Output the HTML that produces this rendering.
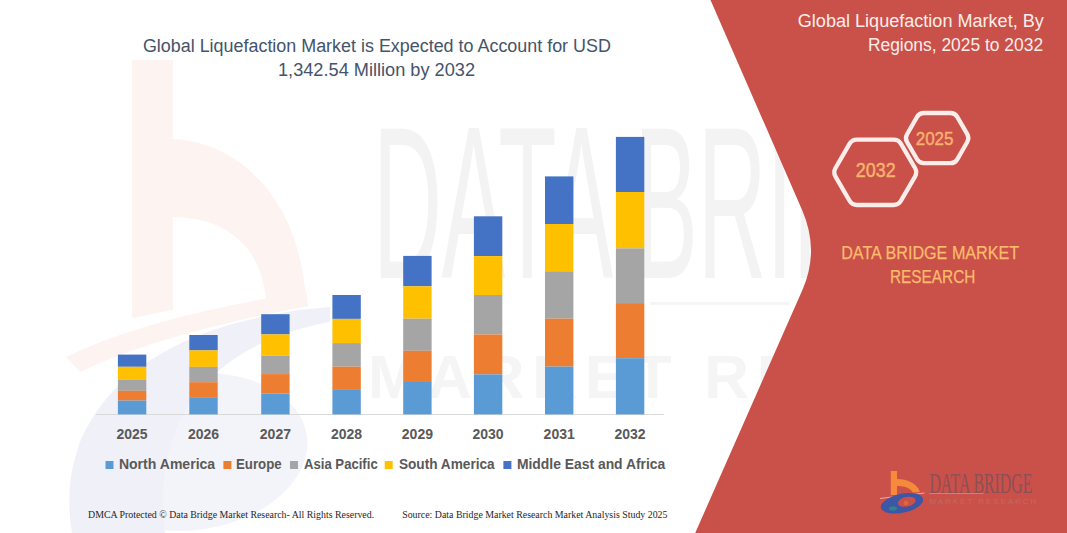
<!DOCTYPE html>
<html><head><meta charset="utf-8"><style>
html,body{margin:0;padding:0;background:#fff;width:1067px;height:533px;overflow:hidden}
svg{display:block}

</style></head><body>
<svg width="1067" height="533" viewBox="0 0 1067 533">
<rect width="1067" height="533" fill="#FFFFFF"/>
<path d="M132,60 L173,60 L173,139 C240,142 300,200 306,300 L266,300 C262,250 230,218 173,217 L173,310 L132,318 Z" fill="#fdf4f2"/>
<path d="M66,357 Q150,316 306,292 L308,306 Q160,334 80,372 Z" fill="#fdf3f0"/>
<ellipse cx="192" cy="452" rx="116" ry="78" transform="rotate(-8 192 452)" fill="#f3f3fa"/>
<path d="M72,533 C55,430 120,335 300,310 L330,307 L330,322 C220,342 150,410 165,533 Z" fill="#f0f0f8"/>
<text x="373" y="278" font-family="Liberation Sans" font-size="218" fill="#f3f3f3" textLength="626.5" lengthAdjust="spacingAndGlyphs">DATA BRIDGE</text>
<rect x="650" y="302" width="140" height="3" fill="#f5f5f5"/>
<text x="368" y="398" font-family="Liberation Sans" font-weight="bold" font-size="62" fill="#f5f5f5" textLength="430" lengthAdjust="spacing">MARKET RE</text>
<rect x="96" y="414" width="568" height="1" fill="#d9d9d9"/>
<rect x="117.9" y="354.6" width="28.4" height="12.2" fill="#4472C4"/>
<rect x="117.9" y="366.8" width="28.4" height="12.7" fill="#FFC000"/>
<rect x="117.9" y="379.5" width="28.4" height="11.3" fill="#A5A5A5"/>
<rect x="117.9" y="390.8" width="28.4" height="9.8" fill="#ED7D31"/>
<rect x="117.9" y="400.6" width="28.4" height="13.8" fill="#5B9BD5"/>
<text x="132.1" y="438.8" text-anchor="middle" font-family="Liberation Sans" font-weight="bold" font-size="14" fill="#595959">2025</text>
<rect x="189.3" y="335.0" width="28.4" height="15.4" fill="#4472C4"/>
<rect x="189.3" y="350.4" width="28.4" height="16.5" fill="#FFC000"/>
<rect x="189.3" y="366.9" width="28.4" height="15.3" fill="#A5A5A5"/>
<rect x="189.3" y="382.2" width="28.4" height="15.0" fill="#ED7D31"/>
<rect x="189.3" y="397.2" width="28.4" height="17.2" fill="#5B9BD5"/>
<text x="203.5" y="438.8" text-anchor="middle" font-family="Liberation Sans" font-weight="bold" font-size="14" fill="#595959">2026</text>
<rect x="261.2" y="314.2" width="28.4" height="20.2" fill="#4472C4"/>
<rect x="261.2" y="334.4" width="28.4" height="21.3" fill="#FFC000"/>
<rect x="261.2" y="355.7" width="28.4" height="18.4" fill="#A5A5A5"/>
<rect x="261.2" y="374.1" width="28.4" height="19.4" fill="#ED7D31"/>
<rect x="261.2" y="393.5" width="28.4" height="20.9" fill="#5B9BD5"/>
<text x="275.4" y="438.8" text-anchor="middle" font-family="Liberation Sans" font-weight="bold" font-size="14" fill="#595959">2027</text>
<rect x="332.4" y="295.0" width="28.4" height="23.9" fill="#4472C4"/>
<rect x="332.4" y="318.9" width="28.4" height="24.2" fill="#FFC000"/>
<rect x="332.4" y="343.1" width="28.4" height="23.6" fill="#A5A5A5"/>
<rect x="332.4" y="366.7" width="28.4" height="23.2" fill="#ED7D31"/>
<rect x="332.4" y="389.9" width="28.4" height="24.5" fill="#5B9BD5"/>
<text x="346.6" y="438.8" text-anchor="middle" font-family="Liberation Sans" font-weight="bold" font-size="14" fill="#595959">2028</text>
<rect x="403.2" y="255.9" width="28.4" height="30.4" fill="#4472C4"/>
<rect x="403.2" y="286.3" width="28.4" height="32.4" fill="#FFC000"/>
<rect x="403.2" y="318.7" width="28.4" height="32.1" fill="#A5A5A5"/>
<rect x="403.2" y="350.8" width="28.4" height="30.3" fill="#ED7D31"/>
<rect x="403.2" y="381.1" width="28.4" height="33.3" fill="#5B9BD5"/>
<text x="417.4" y="438.8" text-anchor="middle" font-family="Liberation Sans" font-weight="bold" font-size="14" fill="#595959">2029</text>
<rect x="473.9" y="216.3" width="28.4" height="39.8" fill="#4472C4"/>
<rect x="473.9" y="256.1" width="28.4" height="38.9" fill="#FFC000"/>
<rect x="473.9" y="295.0" width="28.4" height="39.5" fill="#A5A5A5"/>
<rect x="473.9" y="334.5" width="28.4" height="39.9" fill="#ED7D31"/>
<rect x="473.9" y="374.4" width="28.4" height="40.0" fill="#5B9BD5"/>
<text x="488.1" y="438.8" text-anchor="middle" font-family="Liberation Sans" font-weight="bold" font-size="14" fill="#595959">2030</text>
<rect x="545.0" y="176.4" width="28.4" height="47.6" fill="#4472C4"/>
<rect x="545.0" y="224.0" width="28.4" height="47.3" fill="#FFC000"/>
<rect x="545.0" y="271.3" width="28.4" height="47.4" fill="#A5A5A5"/>
<rect x="545.0" y="318.7" width="28.4" height="47.9" fill="#ED7D31"/>
<rect x="545.0" y="366.6" width="28.4" height="47.8" fill="#5B9BD5"/>
<text x="559.2" y="438.8" text-anchor="middle" font-family="Liberation Sans" font-weight="bold" font-size="14" fill="#595959">2031</text>
<rect x="615.9" y="136.9" width="28.4" height="55.1" fill="#4472C4"/>
<rect x="615.9" y="192.0" width="28.4" height="56.4" fill="#FFC000"/>
<rect x="615.9" y="248.4" width="28.4" height="54.7" fill="#A5A5A5"/>
<rect x="615.9" y="303.1" width="28.4" height="55.1" fill="#ED7D31"/>
<rect x="615.9" y="358.2" width="28.4" height="56.2" fill="#5B9BD5"/>
<text x="630.1" y="438.8" text-anchor="middle" font-family="Liberation Sans" font-weight="bold" font-size="14" fill="#595959">2032</text>
<rect x="105.5" y="461" width="8" height="8" fill="#5B9BD5"/>
<text x="118.9" y="468.6" font-family="Liberation Sans" font-weight="bold" font-size="14" fill="#595959" textLength="96.3" lengthAdjust="spacingAndGlyphs">North America</text>
<rect x="223.4" y="461" width="8" height="8" fill="#ED7D31"/>
<text x="236" y="468.6" font-family="Liberation Sans" font-weight="bold" font-size="14" fill="#595959" textLength="45.6" lengthAdjust="spacingAndGlyphs">Europe</text>
<rect x="290" y="461" width="8" height="8" fill="#A5A5A5"/>
<text x="304" y="468.6" font-family="Liberation Sans" font-weight="bold" font-size="14" fill="#595959" textLength="73.7" lengthAdjust="spacingAndGlyphs">Asia Pacific</text>
<rect x="384.7" y="461" width="8" height="8" fill="#FFC000"/>
<text x="398.9" y="468.6" font-family="Liberation Sans" font-weight="bold" font-size="14" fill="#595959" textLength="95.8" lengthAdjust="spacingAndGlyphs">South America</text>
<rect x="503.4" y="461" width="8" height="8" fill="#4472C4"/>
<text x="516.9" y="468.6" font-family="Liberation Sans" font-weight="bold" font-size="14" fill="#595959" textLength="148.4" lengthAdjust="spacingAndGlyphs">Middle East and Africa</text>
<text x="142.9" y="52.3" font-family="Liberation Sans" font-size="18" fill="#44546A" textLength="468" lengthAdjust="spacingAndGlyphs">Global Liquefaction Market is Expected to Account for USD</text>
<text x="278" y="76.2" font-family="Liberation Sans" font-size="18" fill="#44546A" textLength="197" lengthAdjust="spacingAndGlyphs">1,342.54 Million by 2032</text>
<text x="88.1" y="518" font-family="Liberation Serif" font-size="10" fill="#262626" textLength="286" lengthAdjust="spacingAndGlyphs">DMCA Protected © Data Bridge Market Research-  All Rights Reserved.</text>
<text x="402.2" y="518" font-family="Liberation Serif" font-size="10" fill="#262626" textLength="265.3" lengthAdjust="spacingAndGlyphs">Source: Data Bridge Market Research  Market Analysis Study 2025</text>
<path d="M710.5,0 L1067,0 L1067,533 L695.2,533 L802.4,290 Q819.7,250.5 802.1,210 Z" fill="#C9514A"/>
<text x="797.8" y="27.3" font-family="Liberation Sans" font-size="18" fill="#FCEDEA" textLength="246" lengthAdjust="spacingAndGlyphs">Global Liquefaction Market, By</text>
<text x="867.9" y="51" font-family="Liberation Sans" font-size="18" fill="#FCEDEA" textLength="175.2" lengthAdjust="spacingAndGlyphs">Regions, 2025 to 2032</text>
<path d="M835.51,176.62 Q833.00,172.30 835.51,167.98 L849.49,143.92 Q852.00,139.60 857.00,139.60 L893.50,139.60 Q898.50,139.60 901.01,143.92 L914.99,167.98 Q917.50,172.30 914.99,176.62 L901.01,200.68 Q898.50,205.00 893.50,205.00 L857.00,205.00 Q852.00,205.00 849.49,200.68 Z" fill="none" stroke="#FDEDEA" stroke-width="4.3"/>
<path d="M907.05,142.00 Q904.80,138.10 907.05,134.20 L917.05,116.90 Q919.30,113.00 923.80,113.00 L950.50,113.00 Q955.00,113.00 957.25,116.90 L967.25,134.20 Q969.50,138.10 967.25,142.00 L957.25,159.30 Q955.00,163.20 950.50,163.20 L923.80,163.20 Q919.30,163.20 917.05,159.30 Z" fill="none" stroke="#FDEDEA" stroke-width="4.3"/>
<text x="855.8" y="176.6" font-family="Liberation Sans" font-size="19.5" fill="#F7B26C" stroke="#F7B26C" stroke-width="0.45" textLength="39.8" lengthAdjust="spacingAndGlyphs">2032</text>
<text x="915.7" y="145.2" font-family="Liberation Sans" font-size="19" fill="#F7B26C" stroke="#F7B26C" stroke-width="0.45" textLength="37.8" lengthAdjust="spacingAndGlyphs">2025</text>
<text x="841.2" y="258.8" font-family="Liberation Sans" font-size="19" fill="#FDBB6C" stroke="#FDBB6C" stroke-width="0.25" textLength="178" lengthAdjust="spacingAndGlyphs">DATA BRIDGE MARKET</text>
<text x="890" y="282.8" font-family="Liberation Sans" font-size="19" fill="#FDBB6C" stroke="#FDBB6C" stroke-width="0.25" textLength="85.3" lengthAdjust="spacingAndGlyphs">RESEARCH</text>
<path d="M890.8,471 L897,471 L897,479 C907,479 917,483 920,492 L913,492.5 C910,488 905,486 897,486 L897,495 L890.8,495 Z" fill="#F58A3A"/>
<path d="M880,498.5 L924.5,493" stroke="#F2A6A0" stroke-width="1.2"/>
<g transform="rotate(-12 901 503.5)"><path fill-rule="evenodd" fill="#3D56A6" d="M880.5,503.5 A21.5,9.5 0 1,0 923.5,503.5 A21.5,9.5 0 1,0 880.5,503.5 Z M898,503 A9,4.8 0 1,0 916,503 A9,4.8 0 1,0 898,503 Z"/></g>
<ellipse cx="893" cy="508.5" rx="4" ry="2.2" fill="#2F8C8A" opacity="0.8"/>
<circle cx="906" cy="503" r="2.3" fill="#E8653C"/>
<text x="929.4" y="492.5" font-family="Liberation Serif" font-size="29" fill="#8A5056" textLength="103" lengthAdjust="spacingAndGlyphs">DATA BRIDGE</text>
<rect x="929.4" y="493" width="54" height="1" fill="#EF7A55"/>
<text x="929.4" y="504" font-family="Liberation Sans" font-size="8" fill="#BE6A68" textLength="107" lengthAdjust="spacing">MARKET RESEARCH</text>
</svg>
</body></html>
